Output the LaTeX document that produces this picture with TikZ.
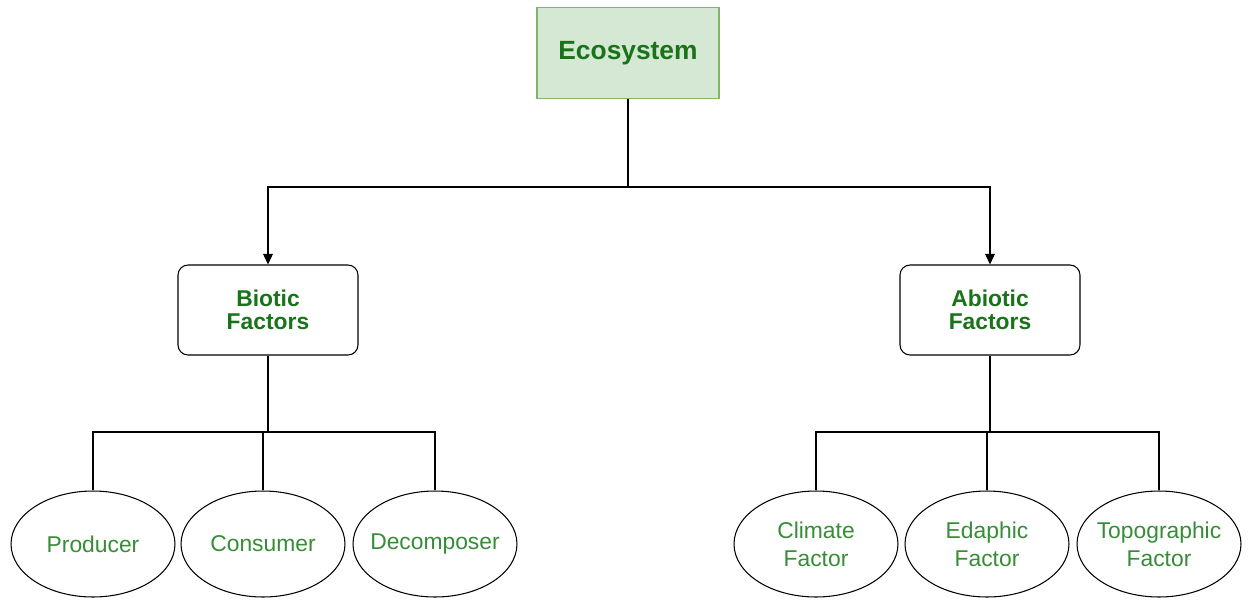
\documentclass[tikz,border=0pt]{standalone}
\usepackage{fontspec}
\setmainfont{Liberation Sans}
\usepackage{xcolor}
\usetikzlibrary{arrows.meta,shapes.geometric}

\definecolor{rootfill}{HTML}{D5E8D4}
\definecolor{rootedge}{HTML}{82B366}
\definecolor{titlegreen}{RGB}{25,115,25}
\definecolor{leafgreen}{RGB}{55,140,55}

\begin{document}
\begin{tikzpicture}[x=0.02cm, y=-0.02cm, line width=0.6pt,
    root/.style={draw=rootedge, fill=rootfill, minimum width=3.64cm, minimum height=1.82cm,
        font=\fontsize{15}{18}\selectfont\bfseries, text=titlegreen},
    factor/.style={draw, rounded corners=0.2cm, minimum width=3.6cm, minimum height=1.8cm,
        align=center, font=\fontsize{13}{13.3}\selectfont\bfseries, text=titlegreen},
    leaf/.style={draw, ellipse, inner xsep=-14pt, inner ysep=-6pt, minimum width=3.28cm,
        minimum height=2.12cm, align=center, font=\fontsize{13}{16}\selectfont, text=leafgreen},
    tip/.style={-{Triangle[length=6pt,width=5.5pt]}}]
\useasboundingbox (0,0) rectangle (1248,599);

% top and the two groups
\node[root] (eco) at (628,53) {Ecosystem};
\node[factor] (bio) at (268,310) {Biotic\\Factors};
\node[factor] (abio) at (990,310) {Abiotic\\Factors};

\coordinate (split) at (628,187);
\draw (eco) -- (split);
\draw[tip] (split) -| (bio);
\draw[tip] (split) -| (abio);

% leaves
\foreach \n/\x/\t in {prod/93/Producer, cons/263/Consumer, deco/435/Decomposer,
    clim/816/Climate\\Factor, edap/987/Edaphic\\Factor, topo/1159/Topographic\\Factor}
    \node[leaf] (\n) at (\x,544) {\t};

\coordinate (bsplit) at (268,432);
\coordinate (asplit) at (990,432);
\draw (bio) -- (bsplit);
\draw (abio) -- (asplit);
\foreach \n in {prod,cons,deco}
    \draw (bsplit) -| (\n.north);
\foreach \n in {clim,edap,topo}
    \draw (asplit) -| (\n.north);
\end{tikzpicture}
\end{document}
